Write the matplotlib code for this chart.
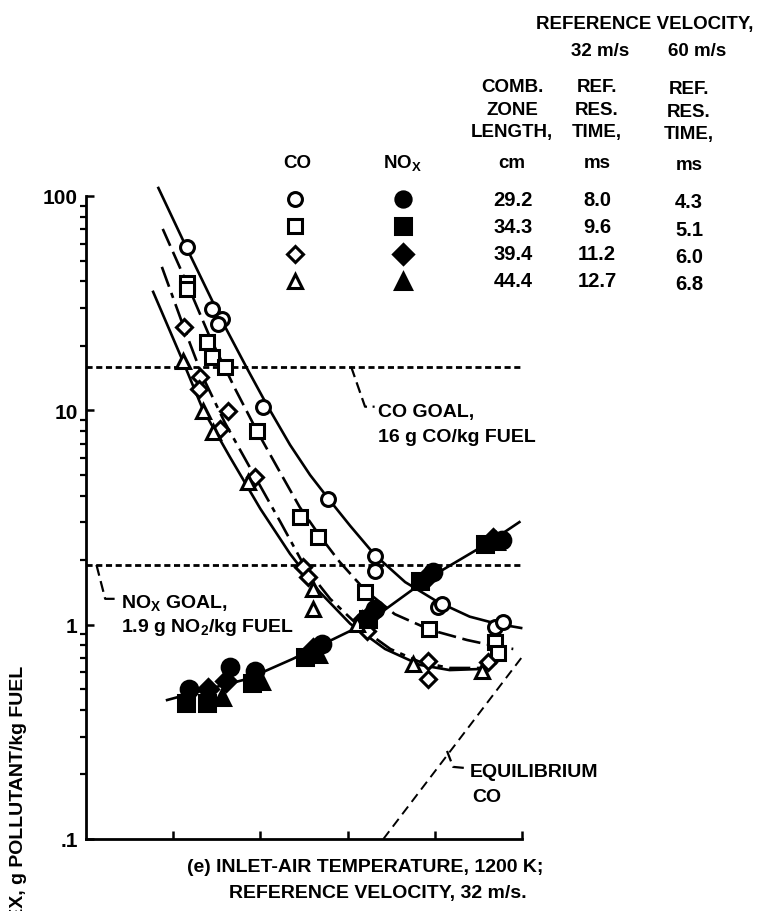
import matplotlib
matplotlib.use("Agg")
import matplotlib.pyplot as plt
from matplotlib.lines import Line2D
from matplotlib.ticker import FixedLocator, NullFormatter, LogLocator

plt.rcParams['font.family'] = ['Liberation Sans', 'DejaVu Sans']
plt.rcParams['font.weight'] = 'bold'
plt.rcParams['mathtext.fontset'] = 'custom'
plt.rcParams['mathtext.rm'] = 'Liberation Sans:bold'
plt.rcParams['mathtext.it'] = 'Liberation Sans:bold'
plt.rcParams['mathtext.bf'] = 'Liberation Sans:bold'

# CO emission index, open symbols (one series per combustion zone length)
co_circle_x = [1.16, 1.45, 1.56, 1.51, 2.03, 2.78, 3.31, 3.31, 4.04, 4.08, 4.69, 4.78]
co_circle_y = [57.8, 29.7, 26.7, 25.3, 10.4, 3.86, 2.09, 1.78, 1.21, 1.25, 0.975, 1.03]
co_square_x = [1.16, 1.16, 1.39, 1.45, 1.59, 1.96, 2.45, 2.66, 3.20, 3.93, 4.69, 4.73]
co_square_y = [39.3, 36.9, 20.8, 17.7, 15.9, 8.02, 3.18, 2.57, 1.42, 0.955, 0.83, 0.74]
co_diamond_x = [1.12, 1.31, 1.30, 1.63, 1.54, 1.94, 2.49, 2.55, 3.17, 3.22, 3.92, 3.92, 4.61]
co_diamond_y = [24.5, 14.3, 12.6, 9.9, 8.18, 4.89, 1.86, 1.67, 1.06, 0.935, 0.677, 0.558, 0.67]
co_triangle_x = [1.11, 1.34, 1.46, 1.86, 2.60, 2.60, 3.11, 3.75, 4.54]
co_triangle_y = [17.0, 9.93, 7.92, 4.64, 1.47, 1.18, 1.01, 0.656, 0.61]

# NOx emission index, filled symbols
nox_circle_x = [1.18, 1.65, 1.94, 2.71, 3.31, 3.98, 4.77]
nox_circle_y = [0.50, 0.635, 0.608, 0.813, 1.18, 1.76, 2.48]
nox_square_x = [1.15, 1.39, 1.90, 2.51, 3.23, 3.83, 4.58]
nox_square_y = [0.431, 0.431, 0.535, 0.707, 1.06, 1.60, 2.38]
nox_diamond_x = [1.40, 1.61, 2.60, 3.27, 3.92, 4.67]
nox_diamond_y = [0.50, 0.546, 0.77, 1.12, 1.69, 2.51]
nox_triangle_x = [1.56, 2.01, 2.66, 4.70]
nox_triangle_y = [0.46, 0.546, 0.73, 2.45]

# faired curves
fit_circle_x = [0.83, 1.16, 1.56, 1.85, 2.08, 2.34, 2.57, 2.80, 3.03, 3.31, 3.66, 4.03, 4.40, 4.71, 4.99]
fit_circle_y = [109, 56.6, 26.1, 15.6, 10.5, 6.9, 4.99, 3.78, 2.89, 2.12, 1.58, 1.28, 1.09, 1.01, 0.965]
fit_square_x = [0.88, 1.16, 1.42, 1.71, 1.96, 2.23, 2.45, 2.68, 2.91, 3.20, 3.54, 3.95, 4.37, 4.69, 4.90]
fit_square_y = [70.2, 38.9, 22.0, 12.6, 8.02, 5.1, 3.54, 2.6, 1.96, 1.45, 1.12, 0.945, 0.848, 0.795, 0.77]
fit_diamond_x = [0.87, 1.12, 1.33, 1.59, 1.94, 2.23, 2.51, 2.80, 3.14, 3.49, 3.83, 4.17, 4.52, 4.71]
fit_diamond_y = [46.7, 24.5, 14.6, 8.8, 4.89, 3.01, 1.86, 1.32, 0.975, 0.77, 0.67, 0.628, 0.628, 0.663]
fit_triangle_x = [0.77, 1.11, 1.34, 1.65, 2.00, 2.34, 2.68, 3.03, 3.43, 3.83, 4.17, 4.52]
fit_triangle_y = [35.7, 17.0, 10.1, 6.06, 3.47, 2.14, 1.42, 1.01, 0.77, 0.649, 0.614, 0.621]
fit_nox_x = [0.93, 1.31, 1.85, 2.37, 3.03, 3.41, 3.91, 4.63, 4.97]
fit_nox_y = [0.445, 0.49, 0.558, 0.692, 0.935, 1.16, 1.63, 2.43, 3.01]

# goals and equilibrium CO
co_goal = 16
nox_goal = 1.9
equil_x = [3.41, 5.01]
equil_y = [0.1, 0.715]

length_cm = ["29.2", "34.3", "39.4", "44.4"]
res_time_32 = ["8.0", "9.6", "11.2", "12.7"]
res_time_60 = ["4.3", "5.1", "6.0", "6.8"]
symbols = ['o', 's', 'D', '^']

W, H = 757, 912


def at(px, py):
    return px / W, 1 - py / H


fig = plt.figure(figsize=(W / 100, H / 100), dpi=100)
ax = fig.add_axes([86 / W, 1 - 840 / H, 436 / W, 643 / H])
ax.set_yscale('log')
ax.set_xlim(0, 5)
ax.set_ylim(0.1, 100)

lw = 1.9
ax.plot(fit_circle_x, fit_circle_y, 'k-', lw=lw, clip_on=False)
ax.plot(fit_square_x, fit_square_y, 'k', lw=lw, linestyle=(0, (7, 2.5)), clip_on=False)
ax.plot(fit_diamond_x, fit_diamond_y, 'k', lw=lw, linestyle=(0, (8, 2.5, 2, 2.5)), clip_on=False)
ax.plot(fit_triangle_x, fit_triangle_y, 'k-', lw=lw, clip_on=False)
ax.plot(fit_nox_x, fit_nox_y, 'k-', lw=lw, clip_on=False)

ax.plot([0, 5], [co_goal, co_goal], 'k', lw=2, linestyle=(0, (2.2, 1.3)), clip_on=False)
ax.plot([0, 5], [nox_goal, nox_goal], 'k', lw=2, linestyle=(0, (2.2, 1.3)), clip_on=False)
ax.plot(equil_x, equil_y, 'k', lw=1.4, linestyle=(0, (5, 3)), clip_on=False)

# leader lines for the notes
ax.plot([3.04, 3.20, 3.31], [16, 10.4, 10.4], 'k', lw=1.6, linestyle=(0, (5, 2.5)), clip_on=False)
ax.plot([0.12, 0.22, 0.33], [1.9, 1.32, 1.32], 'k', lw=1.6, linestyle=(0, (5, 2.5)), clip_on=False)
ax.plot([4.14, 4.21, 4.37], [0.2575, 0.217, 0.214], 'k', lw=1.6, linestyle=(0, (5, 2.5)), clip_on=False)

ms = 10
mew = 2.2
for xs, ys, m in [(co_circle_x, co_circle_y, 'o'), (co_square_x, co_square_y, 's'),
                  (co_diamond_x, co_diamond_y, 'D'), (co_triangle_x, co_triangle_y, '^')]:
    ax.plot(xs, ys, m, ms=ms if m != 'D' else ms * 0.85, mfc='white', mec='black', mew=mew,
            zorder=5, clip_on=False)
for xs, ys, m in [(nox_circle_x, nox_circle_y, 'o'), (nox_square_x, nox_square_y, 's'),
                  (nox_diamond_x, nox_diamond_y, 'D'), (nox_triangle_x, nox_triangle_y, '^')]:
    ax.plot(xs, ys, m, ms=ms * 1.2 if m != 'D' else ms, mfc='black', mec='black', mew=mew,
            zorder=5, clip_on=False)

for side in ['top', 'right']:
    ax.spines[side].set_visible(False)
for side in ['left', 'bottom']:
    ax.spines[side].set_linewidth(2)

ax.xaxis.set_major_locator(FixedLocator([1, 2, 3, 4, 5]))
ax.xaxis.set_major_formatter(NullFormatter())
ax.tick_params(axis='x', direction='in', length=6, width=1.8)
ax.yaxis.set_major_locator(FixedLocator([0.1, 1, 10, 100]))
ax.set_yticklabels(['.1', '1', '10', '100'])
ax.yaxis.set_minor_locator(LogLocator(base=10, subs=range(2, 10)))
ax.yaxis.set_minor_formatter(NullFormatter())
ax.tick_params(axis='y', which='major', direction='in', length=6, width=1.8, labelsize=15, pad=6)
ax.tick_params(axis='y', which='minor', direction='out', length=4, width=1.6)

# notes on the plot
fs = 14
fig.text(*at(378, 413), "CO GOAL,", fontsize=fs, va='center')
fig.text(*at(378, 438), "16 g CO/kg FUEL", fontsize=fs, va='center')
fig.text(*at(121, 603), r"NO$_\mathrm{X}$ GOAL,", fontsize=fs, va='center')
fig.text(*at(121, 628), r"1.9 g NO$_2$/kg FUEL", fontsize=fs, va='center')
fig.text(*at(470, 773), "EQUILIBRIUM", fontsize=fs, va='center')
fig.text(*at(472, 798), "CO", fontsize=fs, va='center')

fig.text(*at(365, 868), "(e) INLET-AIR TEMPERATURE, 1200 K;", fontsize=fs, ha='center', va='center')
fig.text(*at(378, 894), "REFERENCE VELOCITY, 32 m/s.", fontsize=fs, ha='center', va='center')
fig.text(*at(19, 666), "EMISSION INDEX, g POLLUTANT/kg FUEL", fontsize=fs, rotation=90,
         ha='center', va='top')

# symbol table
ft = 13.5
fig.text(*at(645, 25), "REFERENCE VELOCITY,", fontsize=ft, ha='center', va='center')
fig.text(*at(600, 52), "32 m/s", fontsize=ft, ha='center', va='center')
fig.text(*at(697, 52), "60 m/s", fontsize=ft, ha='center', va='center')
for i, (a, b, c) in enumerate([("COMB.", "REF.", "REF."), ("ZONE", "RES.", "RES."),
                               ("LENGTH,", "TIME,", "TIME,")]):
    y = 88 + i * 22.5
    fig.text(*at(512, y), a, fontsize=ft, ha='center', va='center')
    fig.text(*at(597, y), b, fontsize=ft, ha='center', va='center')
    fig.text(*at(689, y + 2), c, fontsize=ft, ha='center', va='center')
fig.text(*at(512, 163), "cm", fontsize=ft, ha='center', va='center')
fig.text(*at(597, 163), "ms", fontsize=ft, ha='center', va='center')
fig.text(*at(689, 165), "ms", fontsize=ft, ha='center', va='center')
fig.text(*at(297, 163), "CO", fontsize=ft, ha='center', va='center')
fig.text(*at(402, 163), r"NO$_\mathrm{X}$", fontsize=ft, ha='center', va='center')

fv = 14.5
for i, m in enumerate(symbols):
    y = 200 + i * 27.3
    fig.add_artist(Line2D([295 / W], [1 - y / H], marker=m, ms=ms if m != 'D' else ms * 0.85,
                          mfc='white', mec='black', mew=mew, transform=fig.transFigure))
    fig.add_artist(Line2D([403 / W], [1 - y / H], marker=m, ms=ms * 1.1 if m != 'D' else ms,
                          mfc='black', mec='black', mew=mew, transform=fig.transFigure))
    fig.text(*at(513, y), length_cm[i], fontsize=fv, ha='center', va='center')
    fig.text(*at(597, y), res_time_32[i], fontsize=fv, ha='center', va='center')
    fig.text(*at(689, y + 3), res_time_60[i], fontsize=fv, ha='center', va='center')

fig.savefig("out.png", dpi=100)
